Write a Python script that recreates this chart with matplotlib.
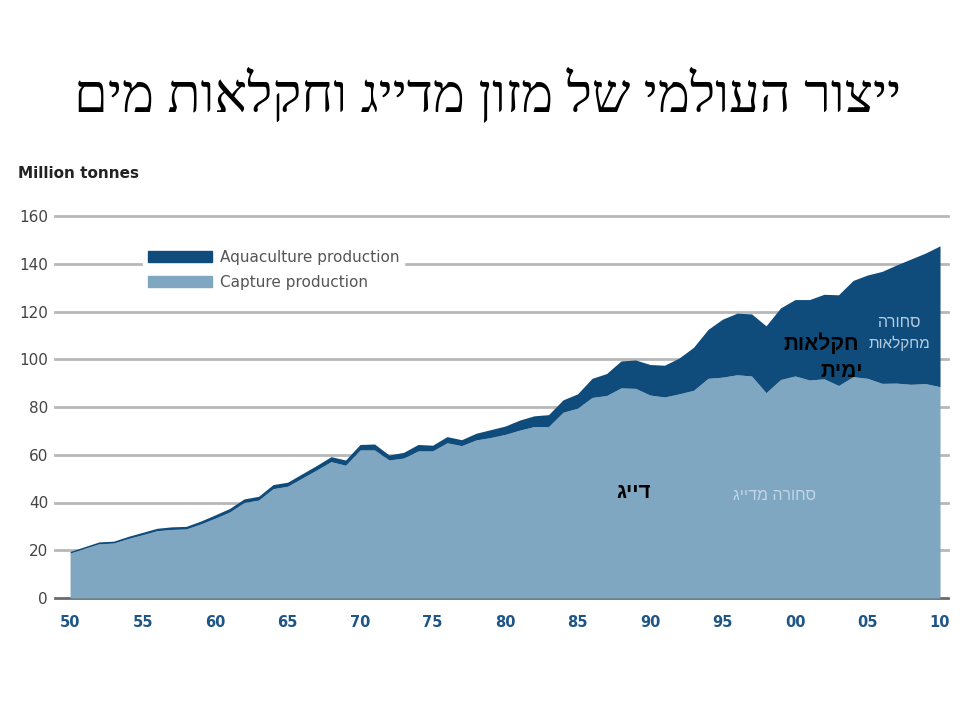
import numpy as np
import matplotlib.pyplot as plt
from matplotlib.patches import Patch

years = np.arange(1950, 2011)
total = [19.5, 21.5, 23.5, 23.8, 25.8, 27.5, 29.2, 29.8, 30.0, 32.2,
         34.8, 37.5, 41.5, 42.6, 47.5, 48.5, 52.0, 55.5, 59.2, 57.8,
         64.3, 64.5, 59.9, 61.0, 64.3, 64.0, 67.6, 66.3, 69.0, 70.5,
         72.0, 74.5, 76.3, 76.8, 83.0, 85.5, 92.0, 94.0, 99.3, 99.7,
         97.8, 97.5, 100.5, 105.0, 112.5, 116.8, 119.3, 119.0, 114.0, 121.5,
         125.0, 125.0, 127.2, 127.0, 133.0, 135.3, 136.8, 139.5, 142.0, 144.5,
         147.5]
capture = [18.8, 20.8, 22.7, 23.0, 24.9, 26.5, 28.2, 28.7, 28.9, 31.0,
           33.4, 36.0, 40.0, 41.0, 45.8, 46.8, 50.2, 53.6, 57.1, 55.6,
           62.0, 62.0, 57.8, 58.6, 61.6, 61.6, 65.0, 63.8, 66.2, 67.2,
           68.5, 70.3, 71.8, 71.8, 77.8, 79.5, 84.0, 84.8, 88.0, 87.8,
           85.0, 84.2, 85.5, 87.0, 92.0, 92.5, 93.5, 93.0, 86.0, 91.5,
           93.0, 91.3, 91.8, 89.0, 92.7, 92.0, 89.9, 90.0, 89.5, 89.8,
           88.5]
tick_years = np.arange(1950, 2011, 5)
tick_labels = ["50", "55", "60", "65", "70", "75", "80", "85", "90", "95", "00", "05", "10"]
y_ticks = [0, 20, 40, 60, 80, 100, 120, 140, 160]

title = "ייצור העולמי של מזון מדייג וחקלאות מים"


def rtl(s):
    # matplotlib has no bidi support, flip Hebrew to visual order
    return s[::-1]


dark = "#0f4c7c"
light = "#7fa7c1"

fig = plt.figure(figsize=(9.6, 7.2), dpi=100)
ax = fig.add_axes([55 / 960, 122 / 720, 893 / 960, 382 / 720])

for v in y_ticks:
    ax.axhline(v, color="#6a6a6a" if v == 0 else "#b8b8b8", lw=2, zorder=0, clip_on=False)

ax.fill_between(years, 0, capture, color=light, lw=0, zorder=2)
ax.fill_between(years, capture, total, color=dark, lw=0, zorder=2)

ax.set_xlim(1948.96, 2010.55)
ax.set_ylim(0, 160)
ax.set_xticks(tick_years)
ax.set_xticklabels(tick_labels, fontsize=10.5, fontweight="bold", color="#1d5687")
ax.set_yticks(y_ticks)
ax.set_yticklabels([str(v) for v in y_ticks], fontsize=11, color="#444444")
ax.tick_params(axis="x", length=0, pad=12)
ax.tick_params(axis="y", length=0, pad=5)
for s in ax.spines.values():
    s.set_visible(False)

handles = [Patch(color=dark, label="Aquaculture production"),
           Patch(color=light, label="Capture production")]
leg = ax.legend(handles=handles, loc="upper left", bbox_to_anchor=(143 / 960, 1 - 245 / 720),
                bbox_transform=fig.transFigure, frameon=True, fancybox=False,
                facecolor="white", edgecolor="white", framealpha=1, fontsize=11,
                handlelength=4.2, handleheight=0.75, handletextpad=0.55, labelspacing=0.65,
                borderpad=0.3, borderaxespad=0)
for t in leg.get_texts():
    t.set_color("#555555")
leg.set_zorder(1)

fig.text(18 / 960, 1 - 174 / 720, "Million tonnes", fontsize=11, fontweight="bold",
         color="#222222", va="center", ha="left")

fig.text(488 / 960, 1 - 95 / 720, rtl(title), fontsize=39, family="Liberation Serif",
         color="black", ha="center", va="center")

ax.text(2001.8, 106.8, rtl("חקלאות"), fontsize=15, fontweight="bold", family="Liberation Sans",
        color="black", ha="center", va="center", zorder=4)
ax.text(2003.2, 94.7, rtl("ימית"), fontsize=15, fontweight="bold", family="Liberation Sans",
        color="black", ha="center", va="center", zorder=4)
ax.text(1988.9, 44, rtl("דייג"), fontsize=15, fontweight="bold", family="Liberation Sans",
        color="black", ha="center", va="center", zorder=4)

faint = "#b6cde0"
ax.text(2007.2, 115.2, rtl("סחורה"), fontsize=11.5, family="Liberation Sans",
        color=faint, ha="center", va="center", zorder=3)
ax.text(2005.1, 106.8, rtl("מחקלאות"), fontsize=11, family="Liberation Sans",
        color=faint, ha="left", va="center", zorder=3)
ax.text(1998.6, 43.1, rtl("סחורה מדייג"), fontsize=11.5, family="Liberation Sans",
        color="#c3d6e6", ha="center", va="center", zorder=3)

fig.savefig("out.png", dpi=100, facecolor="white")
